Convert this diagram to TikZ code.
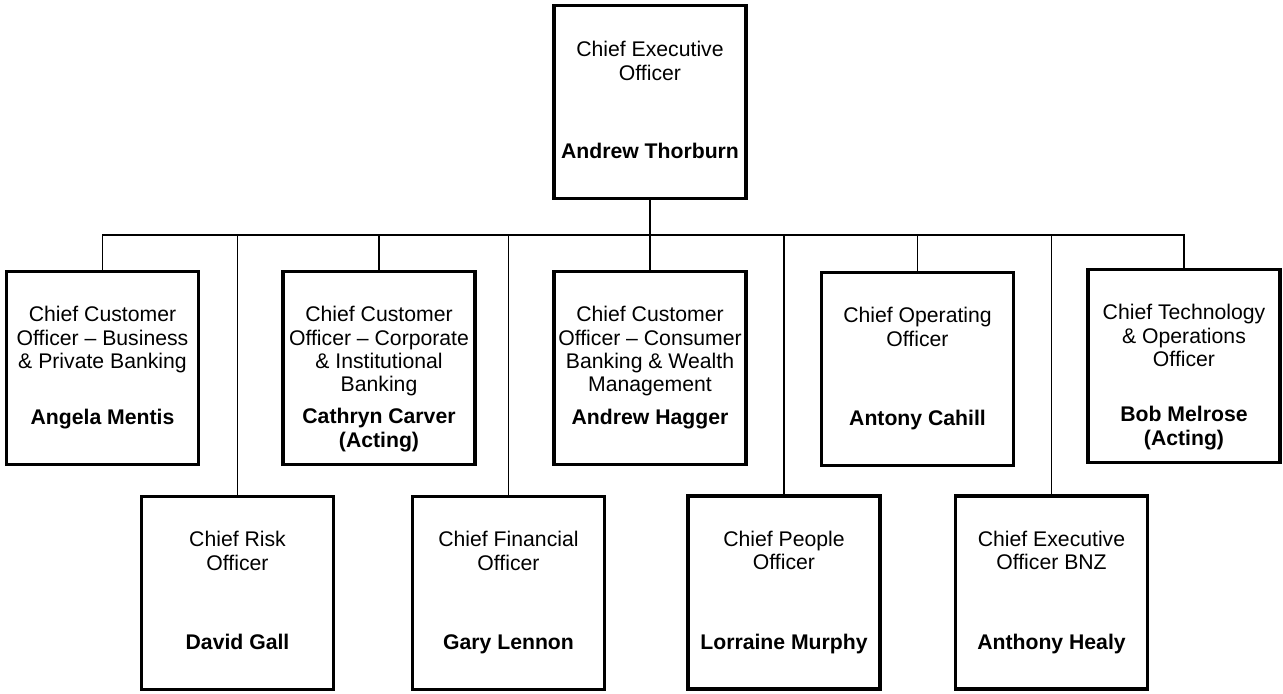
\documentclass[tikz,border=0pt]{standalone}
\usepackage{fontspec}
\setmainfont{Liberation Sans}
\usetikzlibrary{positioning,calc}

\begin{document}
\begin{tikzpicture}[
    x=0.5pt, y=-0.5pt,
    role/.style={rectangle, draw, line width=1.6pt, minimum width=96pt, minimum height=96.5pt, inner sep=0pt},
    title/.style={anchor=north, align=center, inner sep=0pt, font=\fontsize{10.6}{11.6}\selectfont, execute at begin node=\strut},
    holder/.style={anchor=north, align=center, inner sep=0pt, font=\fontsize{10.6}{11.6}\selectfont\bfseries, execute at begin node=\strut},
    link/.style={line width=0.75pt}
]
\useasboundingbox (0,0) rectangle (1283,693);

% Top - chief executive
\node[role] (ceo) at (650,102) {};

% First row of reports
\node[role] (mentis) at (102.5,368) {};
\node[role] (carver) at (379,368) {};
\node[role] (hagger) at (650,368) {};
\node[role] (cahill) at (917.5,369) {};
\node[role] (melrose) at (1184,366) {};

% Second row of reports
\node[role] (gall) at (237.5,593) {};
\node[role] (lennon) at (508.5,593) {};
\node[role] (murphy) at (784,592.5) {};
\node[role] (healy) at (1051.5,592.5) {};

% Titles
\node[title] (ceo-title) at ([yshift=-18.6pt]ceo.north) {Chief Executive\\Officer};
\node[title] (mentis-title) at ([yshift=-18.1pt]mentis.north) {Chief Customer\\Officer -- Business\\\& Private Banking};
\node[title] (carver-title) at ([yshift=-18.1pt]carver.north) {Chief Customer\\Officer -- Corporate\\\& Institutional\\Banking};
\node[title] (hagger-title) at ([yshift=-18.1pt]hagger.north) {Chief Customer\\Officer -- Consumer\\Banking \& Wealth\\Management};
\node[title] (cahill-title) at ([yshift=-18.1pt]cahill.north) {Chief Operating\\Officer};
\node[title] (melrose-title) at ([yshift=-18.1pt]melrose.north) {Chief Technology\\\& Operations\\Officer};
\node[title] (gall-title) at ([yshift=-18.1pt]gall.north) {Chief Risk\\Officer};
\node[title] (lennon-title) at ([yshift=-18.1pt]lennon.north) {Chief Financial\\Officer};
\node[title] (murphy-title) at ([yshift=-18.1pt]murphy.north) {Chief People\\Officer};
\node[title] (healy-title) at ([yshift=-18.1pt]healy.north) {Chief Executive\\Officer BNZ};

% Names
\node[holder] (ceo-name) at ([yshift=-69.1pt]ceo.north) {Andrew Thorburn};
\node[holder] (mentis-name) at ([yshift=-69.1pt]mentis.north) {Angela Mentis};
\node[holder] (carver-name) at ([yshift=-69.1pt]carver.north) {Cathryn Carver\\(Acting)};
\node[holder] (hagger-name) at ([yshift=-69.1pt]hagger.north) {Andrew Hagger};
\node[holder] (cahill-name) at ([yshift=-69.1pt]cahill.north) {Antony Cahill};
\node[holder] (melrose-name) at ([yshift=-69.1pt]melrose.north) {Bob Melrose\\(Acting)};
\node[holder] (gall-name) at ([yshift=-69.1pt]gall.north) {David Gall};
\node[holder] (lennon-name) at ([yshift=-69.1pt]lennon.north) {Gary Lennon};
\node[holder] (murphy-name) at ([yshift=-69.1pt]murphy.north) {Lorraine Murphy};
\node[holder] (healy-name) at ([yshift=-69.1pt]healy.north) {Anthony Healy};

% Reporting lines
\coordinate (bus) at (650,235);
\draw[link] (ceo.south) -- (hagger.north);
\draw[link] (mentis.north) |- (bus) -| (melrose.north);
\foreach \n in {gall,carver,lennon,murphy,cahill,healy}
    \draw[link] (\n.north) -- (\n.north |- bus);

\end{tikzpicture}
\end{document}
